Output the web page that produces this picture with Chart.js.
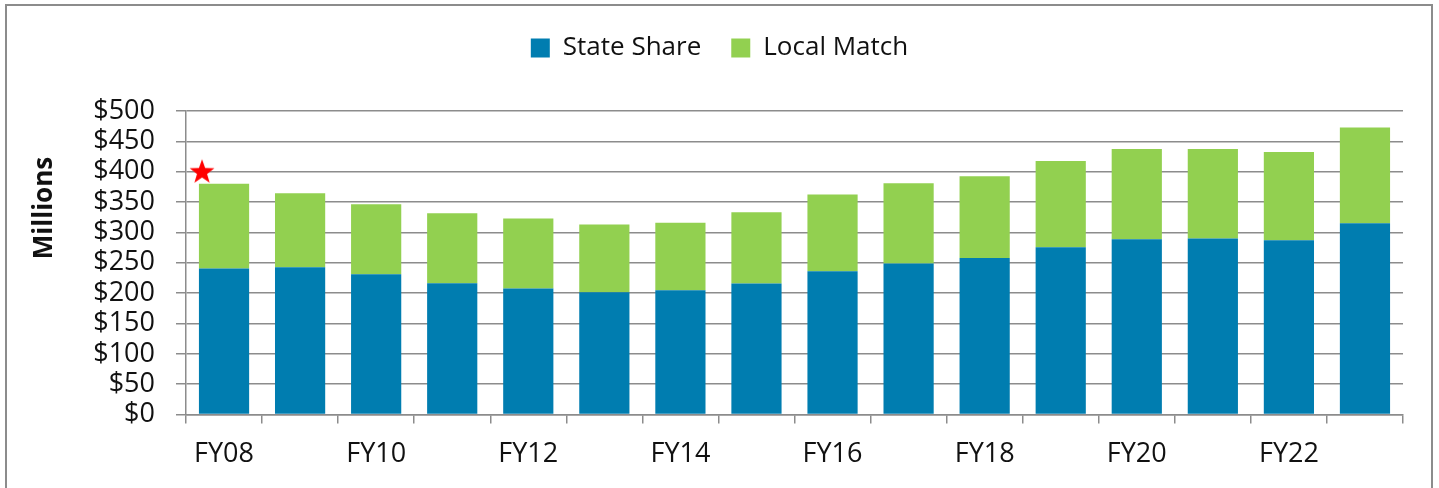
<!DOCTYPE html>
<html>
<head>
<meta charset="utf-8">
<script src="https://cdn.jsdelivr.net/npm/chart.js@4"></script>
<style>
  html, body { margin: 0; padding: 0; background: #fff; overflow: hidden; }
  #frame { position: absolute; left: 5px; top: 4px; width: 1424px; height: 600px; border: 2px solid #8c8c8c; }
  #wrap { position: absolute; left: 0; top: 0; width: 1439px; height: 488px; }
</style>
</head>
<body>
<div id="frame"></div>
<div id="wrap"><canvas id="myChart"></canvas></div>
<script>
// Fiscal years along the x-axis
var years = ['FY08', 'FY09', 'FY10', 'FY11', 'FY12', 'FY13', 'FY14', 'FY15',
             'FY16', 'FY17', 'FY18', 'FY19', 'FY20', 'FY21', 'FY22', 'FY23'];
// Millions of dollars
var stateShare = [240.5, 242.7, 231, 216.3, 207.6, 201.5, 204.6, 216,
                  236, 249, 258, 275.6, 288.8, 290, 287.1, 315];
var localMatch = [139.5, 122, 115.5, 115.3, 115.4, 111.5, 111.4, 117.4,
                  126.6, 132, 134.6, 142.2, 148.8, 147.6, 145.5, 157.8];
// red star marker on FY08
var starMark = [400, null, null, null, null, null, null, null,
                null, null, null, null, null, null, null, null];

var font = "'Open Sans', sans-serif";
var gridGray = '#8c8c8c';

// filled star image, drawn left of the point centre
var star = document.createElement('canvas');
star.width = 70;
star.height = 30;
var sc = star.getContext('2d');
sc.fillStyle = '#ff0000';
sc.beginPath();
for (var i = 0; i < 10; i++) {
  var r = i % 2 === 0 ? 13 : 5.3;
  var a = -Math.PI / 2 + i * Math.PI / 5;
  var px = 13 + r * Math.cos(a), py = 15.5 + r * Math.sin(a);
  if (i === 0) sc.moveTo(px, py); else sc.lineTo(px, py);
}
sc.closePath();
sc.fill();

// extra room under the legend
var legendGap = {
  id: 'legendGap',
  beforeInit: function (chart) {
    var fit = chart.legend.fit;
    chart.legend.fit = function () {
      fit.bind(chart.legend)();
      this.height += 40;
    };
  }
};

// "Millions" sits above the middle of the axis in the original
var axisTitle = {
  id: 'axisTitle',
  afterDraw: function (chart) {
    var c = chart.ctx;
    c.save();
    c.translate(45, 208);
    c.rotate(-Math.PI / 2);
    c.font = "bold 26px " + font;
    c.fillStyle = '#111';
    c.textAlign = 'center';
    c.textBaseline = 'middle';
    c.fillText('Millions', 0, 0);
    c.restore();
  }
};

var ctx = document.getElementById('myChart');
var myChart = new Chart(ctx, {
  type: 'bar',
  plugins: [legendGap, axisTitle],
  data: {
    labels: years,
    datasets: [
      {
        label: 'State Share',
        data: stateShare,
        backgroundColor: '#007db0',
        stack: 'funds',
        categoryPercentage: 1,
        barPercentage: 0.66
      },
      {
        label: 'Local Match',
        data: localMatch,
        backgroundColor: '#92d050',
        stack: 'funds',
        categoryPercentage: 1,
        barPercentage: 0.66
      },
      {
        type: 'line',
        label: 'star',
        data: starMark,
        stack: 'marker',
        showLine: false,
        pointStyle: star,
        pointRadius: 15
      }
    ]
  },
  options: {
    responsive: true,
    maintainAspectRatio: false,
    animation: false,
    layout: { padding: { left: 36, right: 36, top: 5, bottom: 2 } },
    plugins: {
      tooltip: { enabled: false },
      legend: {
        position: 'top',
        labels: {
          filter: function (item) { return item.text !== 'star'; },
          boxWidth: 19,
          boxHeight: 19,
          padding: 30,
          color: '#111',
          font: { family: font, size: 26 }
        }
      }
    },
    scales: {
      x: {
        stacked: true,
        grid: {
          offset: true,
          drawOnChartArea: false,
          tickLength: 9,
          color: gridGray,
          lineWidth: 1.5
        },
        border: { color: gridGray, width: 1.5 },
        ticks: {
          autoSkip: false,
          maxRotation: 0,
          padding: 15,
          color: '#111',
          font: { family: font, size: 27 },
          callback: function (v, i) { return i % 2 === 0 ? years[i] : ''; }
        }
      },
      y: {
        stacked: true,
        min: 0,
        max: 500,
        afterFit: function (scale) { scale.width = 150; },
        grid: { tickLength: 10, color: gridGray, lineWidth: 1.5 },
        border: { color: gridGray, width: 1.5 },
        ticks: {
          stepSize: 50,
          autoSkip: false,
          padding: 21,
          color: '#111',
          font: { family: font, size: 27 },
          callback: function (v) { return '$' + v; }
        }
      }
    }
  }
});
</script>
</body>
</html>
